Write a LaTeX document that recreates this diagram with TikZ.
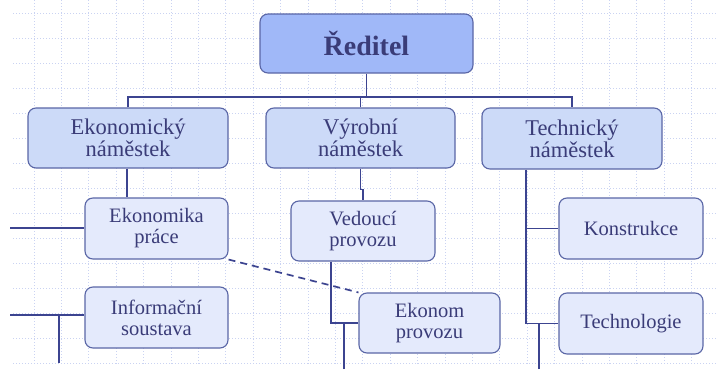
\documentclass[tikz,border=0pt]{standalone}
\usepackage{fontspec}
\setmainfont{Liberation Serif}
\usetikzlibrary{calc}
\definecolor{gridc}{HTML}{CAD3F2}
\definecolor{topfill}{HTML}{A0B8F8}
\definecolor{midfill}{HTML}{CCDAF8}
\definecolor{lowfill}{HTML}{E4EAFC}
\definecolor{boxline}{HTML}{5A66A6}
\definecolor{connc}{HTML}{3C4490}
\definecolor{txtc}{HTML}{3A3C78}
\tikzset{
  box/.style={draw=boxline, line width=1.1pt, rounded corners=8pt, text=txtc, align=center, inner sep=0pt},
  topbox/.style={box, fill=topfill, font=\fontsize{28}{30}\selectfont\bfseries},
  midbox/.style={box, fill=midfill, font=\fontsize{22.5}{22}\selectfont},
  lowbox/.style={box, fill=lowfill, font=\fontsize{20.5}{21}\selectfont},
  conn/.style={draw=connc, line width=1.7pt},
  gridln/.style={draw=gridc, line width=0.9pt, dash pattern=on 1pt off 2pt}
}
\begin{document}
\begin{tikzpicture}[x=1pt,y=-1pt]
\useasboundingbox (0,0) rectangle (718,388);
\fill[white] (0,0) rectangle (718,388);
% grid
\foreach \k in {0,...,14} {
  \draw[gridln] (13,{13+25*\k}) -- (718,{13+25*\k});
}
\foreach \k in {0,...,24} {
  \draw[gridln] ({34+27.4*\k},0) -- ({34+27.4*\k},364);
}
% nodes
\node[topbox, minimum width=213pt, minimum height=59pt] (dir) at (366.5,43.5) {Ředitel};
\node[midbox, minimum width=200pt, minimum height=60pt] (eko) at (128,138) {Ekonomický\\náměstek};
\node[midbox, minimum width=189pt, minimum height=60pt] (vyr) at (360.5,138) {Výrobní\\náměstek};
\node[midbox, minimum width=180pt, minimum height=61pt] (tech) at (572,138.5) {Technický\\náměstek};
\node[lowbox, minimum width=143pt, minimum height=61pt] (ekp) at (156.5,228.5) {Ekonomika\\práce};
\node[lowbox, minimum width=143pt, minimum height=61pt] (info) at (156.5,317.5) {Informační\\soustava};
\node[lowbox, minimum width=144pt, minimum height=60pt] (ved) at (363,231) {Vedoucí\\provozu};
\node[lowbox, minimum width=141pt, minimum height=60pt] (eprov) at (429.5,323) {Ekonom\\provozu};
\node[lowbox, minimum width=144pt, minimum height=61pt] (kon) at (631,228.5) {Konstrukce};
\node[lowbox, minimum width=144pt, minimum height=61pt] (techn) at (631,323.5) {Technologie};
% coordinates
\coordinate (bus) at (0,97);
\coordinate (l1) at (10,228);
\coordinate (l2) at (10,315);
\coordinate (d1) at (59,363);
\coordinate (d2) at (344,369);
\coordinate (d3) at (539,369);
% connectors
\draw[conn] (dir.south) -- (dir.south |- bus);
\draw[conn] (eko.north) -- (eko.north |- bus) -- (tech.north |- bus) -- (tech.north);
\draw[conn] (vyr.north) -- (vyr.north |- bus);
\draw[conn] ([xshift=-1pt]eko.south) -- ([xshift=-1pt]eko.south |- ekp.north);
\draw[conn] (l1) -- (l1 -| ekp.west);
\draw[conn] (l2) -- (l2 -| info.west);
\draw[conn] (d1) -- (d1 |- l2);
\draw[conn] (vyr.south) -- ++(0,21) -| (ved.north);
\draw[conn] ([xshift=-32pt]ved.south) |- (eprov.west);
\draw[conn] (d2) -- (d2 |- eprov.west);
\draw[conn, dash pattern=on 7pt off 5pt] (ekp.south east) -- (eprov.north west);
\draw[conn] ([xshift=-46pt]tech.south) |- (techn.west);
\draw[conn] ([xshift=-46pt]tech.south |- kon.west) -- (kon.west);
\draw[conn] (d3) -- (d3 |- techn.west);
\end{tikzpicture}
\end{document}
